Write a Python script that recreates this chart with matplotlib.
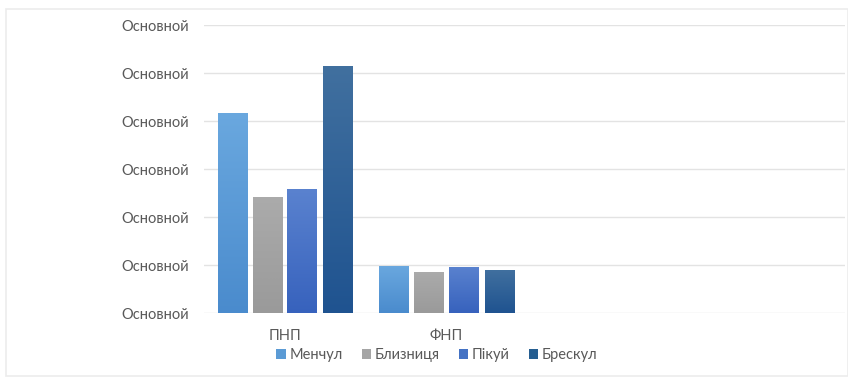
import matplotlib
matplotlib.use("Agg")
import matplotlib.pyplot as plt
import numpy as np
from matplotlib.colors import LinearSegmentedColormap
from matplotlib.patches import Rectangle

plt.rcParams['font.family'] = ['Lato', 'DejaVu Sans']

categories = ["ПНП", "ФНП", "", ""]
series_names = ["Менчул", "Близниця", "Пікуй", "Брескул"]
menchul = [4.17, 0.985, 0, 0]
blyznytsia = [2.42, 0.855, 0, 0]
pikui = [2.58, 0.96, 0, 0]
breskul = [5.14, 0.90, 0, 0]
series_values = [menchul, blyznytsia, pikui, breskul]
y_tick_values = [0, 1, 2, 3, 4, 5, 6]
y_tick_label = "Основной"

top_colors = ["#6aa8df", "#ababab", "#5a82cf", "#41709f"]
bot_colors = ["#4a8bcd", "#9a9a9a", "#3762bd", "#1f5390"]
legend_colors = ["#5b9bd5", "#a5a5a5", "#4472c4", "#255e91"]

W, H = 848, 377
fig = plt.figure(figsize=(W / 100, H / 100), dpi=100)
fig.patch.set_facecolor("white")

# outer faint border
fig.patches.append(Rectangle((6 / W, 1 / H), (W - 6) / W, (368 - 1) / H,
                             transform=fig.transFigure, fill=False,
                             edgecolor="#ececec", linewidth=1.2))

ax_l, ax_r = 204, 845
ax_b, ax_t = 313.3, 25
ax = fig.add_axes([ax_l / W, (H - ax_b) / H, (ax_r - ax_l) / W, (ax_b - ax_t) / H])
cat_w = 161.5

for s in ax.spines.values():
    s.set_visible(False)
ax.set_yticks(y_tick_values)
ax.set_yticklabels([y_tick_label] * len(y_tick_values), color="#595959", fontsize=10.5)
ax.tick_params(axis="y", length=0, pad=11)
ax.set_xticks(range(2))
ax.set_xticklabels(categories[:2], color="#595959", fontsize=10.5)
ax.tick_params(axis="x", length=0, pad=11)
ax.grid(axis="y", color="#e3e3e3", linewidth=1.0)
ax.set_axisbelow(True)

offsets = [-0.325, -0.108, 0.107, 0.328]
bw = 0.18
x = np.arange(len(categories))
for i, vals in enumerate(series_values):
    cmap = LinearSegmentedColormap.from_list("g%d" % i, [bot_colors[i], top_colors[i]])
    bars = ax.bar(x + offsets[i], vals, width=bw, color=legend_colors[i],
                  label=series_names[i], zorder=2, alpha=0)
    for b, v in zip(bars, vals):
        if v <= 0:
            continue
        x0 = b.get_x()
        grad = np.linspace(0, 1, 256).reshape(-1, 1)
        im = ax.imshow(grad, cmap=cmap, origin="lower", aspect="auto",
                       extent=(x0, x0 + bw, 0, v), zorder=3, interpolation="bicubic")
        rect = Rectangle((x0, 0), bw, v, transform=ax.transData, facecolor="none")
        ax.add_patch(rect)
        im.set_clip_path(rect)

ax.set_xlim(-0.5, -0.5 + (ax_r - ax_l) / cat_w)
ax.set_ylim(0, 6)

handles = [Rectangle((0, 0), 1, 1, facecolor=c) for c in legend_colors]
leg = fig.legend(handles, series_names, loc="center", bbox_to_anchor=(437 / W, (H - 355) / H),
                 ncol=4, frameon=False, fontsize=10.5, handlelength=0.65, handleheight=0.65,
                 handletextpad=0.25, columnspacing=1.3)
for t in leg.get_texts():
    t.set_color("#595959")

fig.savefig("out.png", dpi=100, facecolor="white")
